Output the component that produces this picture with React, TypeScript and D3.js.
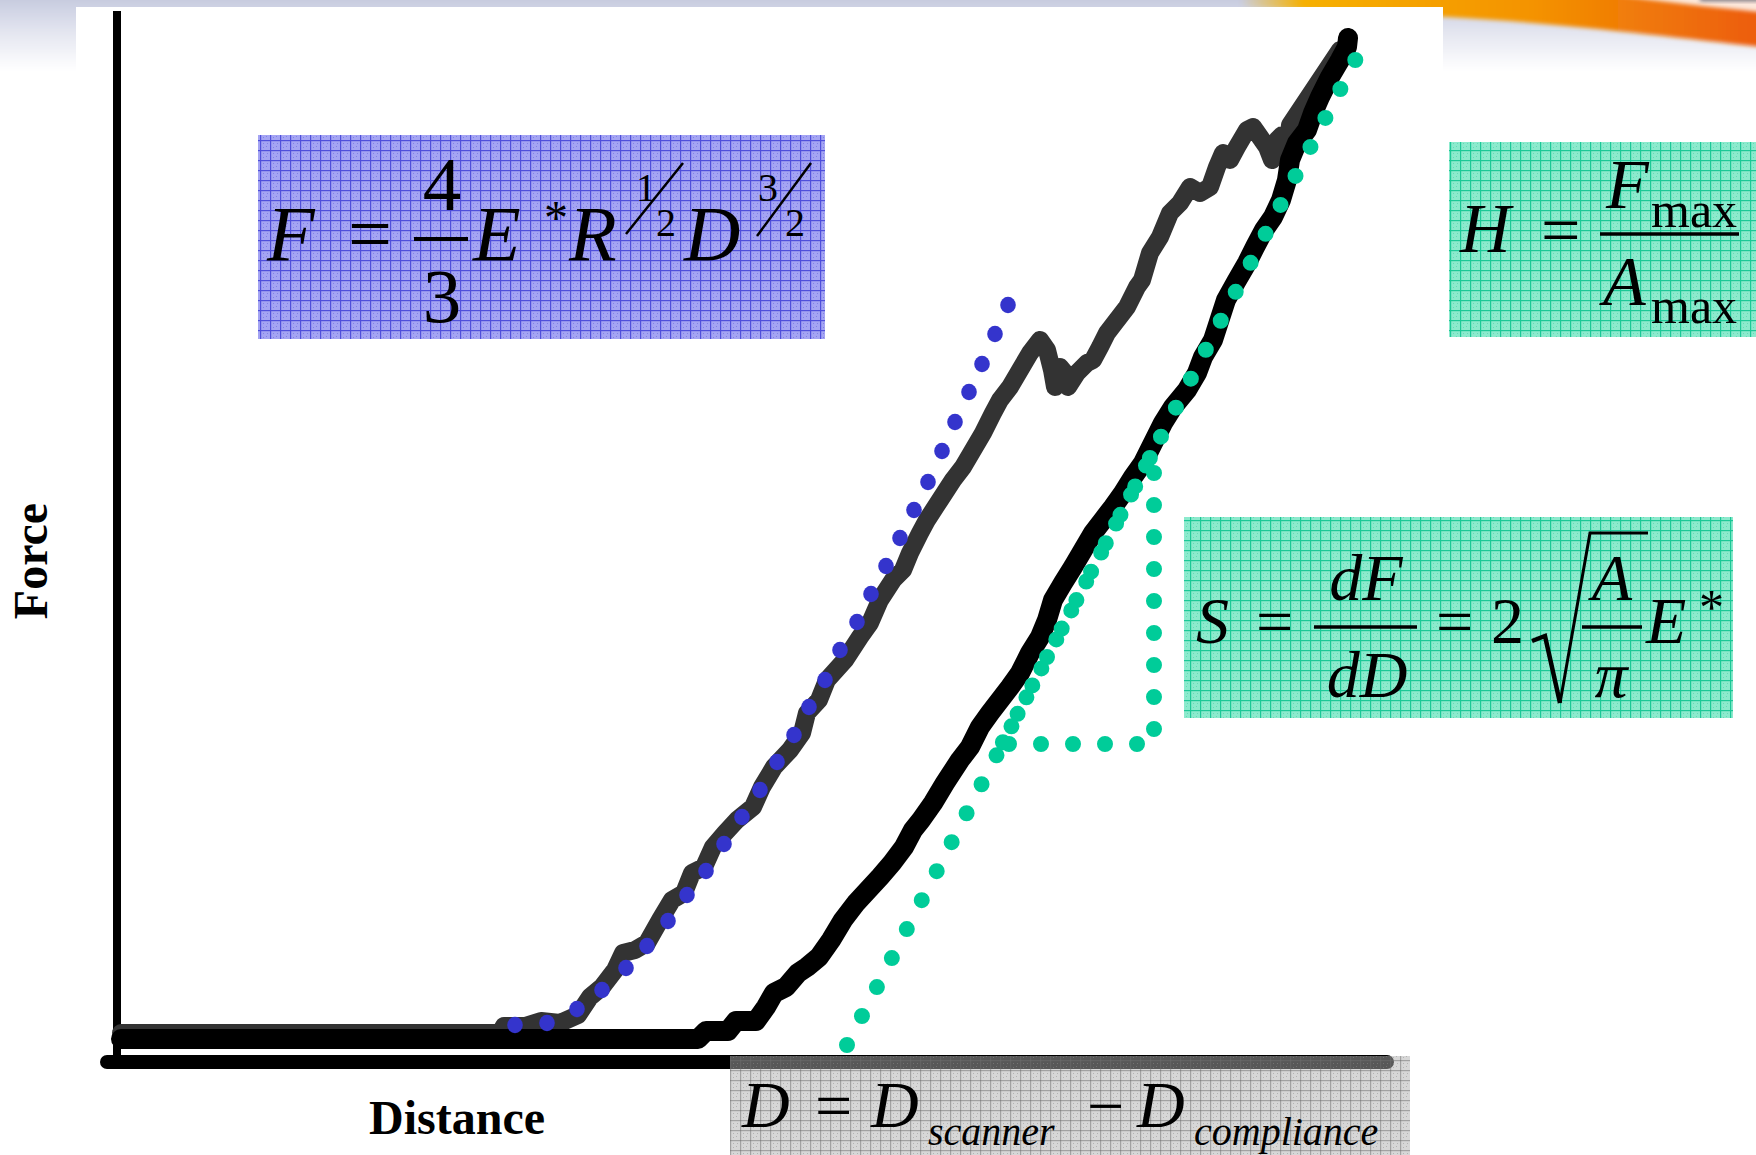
import React from "react";
import * as d3 from "d3";

// loading branch (distance, force), arbitrary units
const loadingCurve: [number, number][] = [
  [0.4, 2.9], [38.3, 2.9], [38.7, 3.6], [40.8, 3.6], [42.4, 4.1], [44.3, 3.9],
  [46.1, 4.7], [47.3, 6.5], [48.5, 7.5], [49.8, 9.2], [50.6, 10.9], [51.8, 11.2],
  [53.0, 11.9], [54.3, 14.2], [55.5, 16.2], [56.7, 16.9], [57.5, 18.9], [58.7, 19.5],
  [59.6, 21.5], [60.8, 22.9], [62.0, 24.2], [63.6, 25.5], [64.5, 27.5], [65.7, 29.5],
  [67.3, 31.2], [68.5, 32.9], [69.0, 34.9], [70.2, 36.2], [71.0, 38.2], [72.8, 40.2],
  [74.3, 42.5], [75.3, 43.9], [76.3, 46.2], [77.6, 48.2], [78.6, 49.2], [79.3, 50.9],
  [80.3, 52.9], [81.0, 54.2], [82.3, 56.2], [83.6, 58.2], [84.6, 59.5], [85.6, 61.2],
  [86.6, 62.9], [87.6, 64.9], [88.3, 66.2], [89.3, 67.5], [90.3, 69.2], [91.3, 70.9],
  [92.3, 72.2], [93.0, 71.2], [93.5, 69.2], [93.8, 67.5], [94.3, 69.5], [94.8, 68.9],
  [95.1, 67.5], [96.0, 68.9], [97.0, 69.9], [97.6, 70.2], [98.3, 71.5], [99.0, 72.9],
  [100.0, 74.2], [101.0, 75.5], [102.0, 77.5], [102.5, 78.2], [103.3, 80.9], [104.3, 82.5],
  [105.3, 84.9], [106.3, 85.9], [107.3, 87.5], [108.3, 86.9], [109.3, 87.5], [110.0, 89.5],
  [110.6, 90.9], [111.3, 90.2], [112.0, 91.5], [113.0, 93.2], [113.6, 93.5], [114.3, 92.5],
  [115.0, 91.5], [115.5, 90.2], [116.0, 92.2], [116.5, 92.7], [117.0, 91.2], [117.3, 93.7],
  [118.3, 95.2], [119.3, 96.7], [120.3, 98.2], [121.3, 99.7], [122.3, 101.2],
];

// unloading branch
const unloadingCurve: [number, number][] = [
  [0.4, 2.3], [58.1, 2.3], [58.9, 3.1], [61.1, 3.1], [61.9, 4.1], [63.9, 4.1],
  [64.9, 5.5], [65.7, 6.9], [66.9, 7.5], [68.1, 8.9], [69.0, 9.5], [70.2, 10.5],
  [71.4, 12.2], [72.6, 14.2], [73.9, 15.9], [75.1, 17.2], [76.3, 18.5], [77.5, 19.9],
  [78.7, 21.5], [79.6, 23.2], [80.4, 24.2], [81.6, 25.9], [82.8, 27.9], [84.3, 30.2],
  [85.3, 31.5], [86.3, 33.5], [87.3, 34.9], [88.3, 36.2], [89.3, 37.5], [90.3, 38.9],
  [91.3, 40.9], [92.3, 42.5], [93.0, 44.2], [93.6, 46.2], [94.6, 47.9], [95.6, 49.5],
  [96.6, 51.2], [97.6, 52.9], [98.6, 54.2], [99.6, 55.5], [100.6, 56.9], [101.6, 58.5],
  [102.6, 59.9], [103.6, 61.9], [104.6, 63.9], [105.6, 65.5], [107.0, 67.2], [108.0, 68.9],
  [108.6, 70.5], [109.6, 72.2], [110.9, 76.2], [111.9, 78.0], [113.0, 79.9], [113.8, 81.5],
  [114.7, 83.2], [115.6, 84.5], [116.4, 86.2], [117.0, 88.2], [117.3, 90.2], [118.0, 91.9],
  [119.0, 93.2], [119.6, 94.9], [120.3, 96.5], [121.3, 98.5], [122.3, 100.2], [123.0, 101.5],
  [123.1, 102.4],
];

// Hertz fit, one entry per dot
const hertzFit: [number, number][] = [
  [39.8, 3.7], [43.0, 3.9], [46.0, 5.3], [48.5, 7.2], [50.9, 9.4], [53.0, 11.6],
  [55.1, 14.1], [57.0, 16.7], [58.9, 19.1], [60.7, 21.8], [62.5, 24.5], [64.3, 27.2],
  [66.0, 30.0], [67.7, 32.7], [69.2, 35.5], [70.8, 38.2], [72.3, 41.2], [74.0, 44.0],
  [75.4, 46.8], [76.9, 49.6], [78.3, 52.4], [79.7, 55.2], [81.1, 58.0], [82.5, 61.1],
  [83.8, 64.0], [85.2, 67.0], [86.5, 69.8], [87.8, 72.8], [89.1, 75.7],
];

// stiffness tangent to the unloading branch and its slope triangle
const tangentLine: [number, number][] = [[73.0, 1.7], [124.4, 101.3]];
const slopeTriangle: [number, number][] = [[88.5, 31.8], [103.7, 31.8], [103.7, 61.2]];

const xLabel = "Distance";
const yLabel = "Force";

const W = 1756;
const H = 1155;
const serif = "'Liberation Serif', 'Times New Roman', serif";

const x = d3.scaleLinear().domain([0, 127]).range([117, 1387]);
const y = d3.scaleLinear().domain([0, 105]).range([1062, 12]);

const line = d3
  .line<[number, number]>()
  .x((d) => x(d[0]))
  .y((d) => y(d[1]));

const GridPattern = ({ id, base, grid, dot, opacity = 1 }: any) => (
  <pattern id={id} width="10" height="10" patternUnits="userSpaceOnUse">
    <rect width="10" height="10" fill={base} fillOpacity={opacity} />
    <rect x="3" y="3" width="1" height="1" fill={dot} fillOpacity={opacity} />
    <rect x="6" y="6" width="1" height="1" fill={dot} fillOpacity={opacity} />
    <rect x="3" y="7" width="1" height="1" fill={dot} fillOpacity={opacity} />
    <rect x="7" y="3" width="1" height="1" fill={dot} fillOpacity={opacity} />
    <rect x="0" y="0" width="10" height="1.2" fill={grid} fillOpacity={opacity} />
    <rect x="0" y="0" width="1.2" height="10" fill={grid} fillOpacity={opacity} />
  </pattern>
);

const App = () => {
  const [x0, x1] = x.range();
  const [yBase, yTop] = y.range();

  return (
    <div style={{ position: "absolute", left: 0, top: 0 }}>
      <svg width={W} height={H} style={{ display: "block" }}>
        <defs>
          <linearGradient id="bannerFade" x1="0" y1="0" x2="0" y2="1">
            <stop offset="0" stopColor="#bfc4da" />
            <stop offset="0.5" stopColor="#e2e4ef" />
            <stop offset="1" stopColor="#ffffff" />
          </linearGradient>
          <linearGradient id="orangeSweep" x1="0" y1="0" x2="1" y2="0">
            <stop offset="0" stopColor="#f4b400" stopOpacity="0" />
            <stop offset="0.12" stopColor="#f6b000" />
            <stop offset="0.55" stopColor="#f49300" />
            <stop offset="1" stopColor="#ec5a12" />
          </linearGradient>
          <filter id="soft" x="-10%" y="-50%" width="120%" height="200%">
            <feGaussianBlur stdDeviation="4" />
          </filter>
          <filter id="softer" x="-10%" y="-50%" width="120%" height="200%">
            <feGaussianBlur stdDeviation="2" />
          </filter>
          <GridPattern id="gridBlue" base="#a4a4f3" grid="#4f4fdb" dot="#8080e6" />
          <GridPattern id="gridGreen" base="#8ceacd" grid="#1cc897" dot="#62dcb6" />
          <GridPattern id="gridGray" base="#b0b0b0" grid="#6e6e6e" dot="#909090" opacity={0.5} />
        </defs>

        {/* slide background */}
        <rect width={W} height={H} fill="#ffffff" />
        <rect x={-20} y={-10} width={W + 40} height={80} fill="url(#bannerFade)" filter="url(#soft)" />
        <path
          d="M1240,-10 L1770,-10 L1770,48 C1690,39 1610,29 1510,21 C1410,14 1320,10 1240,7 Z"
          fill="url(#orangeSweep)"
          filter="url(#softer)"
        />
        <path d="M1610,-6 L1770,-6 L1770,13 C1710,7 1660,2 1610,-6 Z" fill="#ffffff" opacity="0.85" filter="url(#softer)" />
        <rect x={1700} y={-4} width={70} height={5} fill="#303850" opacity="0.7" filter="url(#softer)" />
        <rect x={76} y={7} width={1367} height={H} fill="#ffffff" />

        {/* axes */}
        <line x1={x0} x2={x0} y1={yTop - 1} y2={yBase} stroke="#000" strokeWidth={8} />
        <line x1={x0 - 10} x2={x1} y1={yBase} y2={yBase} stroke="#000" strokeWidth={14} strokeLinecap="round" />

        {/* curves */}
        <path
          d={line(loadingCurve) || ""}
          fill="none"
          stroke="#333333"
          strokeWidth={18}
          strokeLinejoin="round"
          strokeLinecap="round"
        />
        <path
          d={line(unloadingCurve) || ""}
          fill="none"
          stroke="#000000"
          strokeWidth={20}
          strokeLinejoin="round"
          strokeLinecap="round"
        />
        {hertzFit.map((d, i) => (
          <ellipse key={i} cx={x(d[0])} cy={y(d[1])} rx={7.8} ry={8.2} fill="#3434cc" />
        ))}
        <path
          d={line(tangentLine) || ""}
          fill="none"
          stroke="#00cc99"
          strokeWidth={16}
          strokeLinecap="round"
          strokeDasharray="0 32.6"
        />
        <path
          d={(line(slopeTriangle) || "") + "Z"}
          fill="none"
          stroke="#00cc99"
          strokeWidth={16}
          strokeLinecap="round"
          strokeLinejoin="round"
          strokeDasharray="0 32"
          strokeDashoffset={25}
        />

        {/* Hertz formula */}
        <g fontFamily={serif} fill="#000">
          <rect x={258} y={135} width={567} height={204} fill="url(#gridBlue)" />
          <text x={267} y={260} fontSize={78} fontStyle="italic">F</text>
          <text x={348} y={260} fontSize={78}>=</text>
          <text x={442} y={210} fontSize={77} textAnchor="middle">4</text>
          <line x1={414} x2={468} y1={239} y2={239} stroke="#000" strokeWidth={4} />
          <text x={442} y={322} fontSize={77} textAnchor="middle">3</text>
          <text x={473} y={260} fontSize={78} fontStyle="italic">E</text>
          <text x={544} y={234} fontSize={48}>*</text>
          <text x={569} y={260} fontSize={78} fontStyle="italic">R</text>
          <text x={636} y={201} fontSize={40}>1</text>
          <line x1={626} y1={234} x2={683} y2={163} stroke="#000" strokeWidth={2.5} />
          <text x={656} y={236} fontSize={40}>2</text>
          <text x={684} y={260} fontSize={78} fontStyle="italic">D</text>
          <text x={758} y={201} fontSize={40}>3</text>
          <line x1={757} y1={236} x2={811} y2={163} stroke="#000" strokeWidth={2.5} />
          <text x={785} y={236} fontSize={40}>2</text>
        </g>

        {/* hardness */}
        <g fontFamily={serif} fill="#000">
          <rect x={1449} y={142} width={W - 1449} height={195} fill="url(#gridGreen)" />
          <text x={1460} y={252} fontSize={70} fontStyle="italic">H</text>
          <text x={1541} y={254} fontSize={70}>=</text>
          <line x1={1600} x2={1739} y1={234} y2={234} stroke="#000" strokeWidth={3.5} />
          <text x={1606} y={208} fontSize={70} fontStyle="italic">F</text>
          <text x={1651} y={227} fontSize={50}>max</text>
          <text x={1603} y={305} fontSize={70} fontStyle="italic">A</text>
          <text x={1651} y={323} fontSize={50}>max</text>
        </g>

        {/* stiffness */}
        <g fontFamily={serif} fill="#000">
          <rect x={1184} y={517} width={549} height={201} fill="url(#gridGreen)" />
          <text x={1196} y={643} fontSize={66} fontStyle="italic">S</text>
          <text x={1256} y={644} fontSize={66}>=</text>
          <text x={1366} y={600} fontSize={66} fontStyle="italic" textAnchor="middle">dF</text>
          <line x1={1314} x2={1417} y1={627} y2={627} stroke="#000" strokeWidth={3.5} />
          <text x={1367} y={697} fontSize={66} fontStyle="italic" textAnchor="middle">dD</text>
          <text x={1436} y={644} fontSize={66}>=</text>
          <text x={1491} y={643} fontSize={66}>2</text>
          <path d="M1532,641 L1545,636 L1560,703" fill="none" stroke="#000" strokeWidth={4.5} />
          <path d="M1560,703 L1590,533 L1648,533" fill="none" stroke="#000" strokeWidth={3} />
          <text x={1612} y={600} fontSize={66} fontStyle="italic" textAnchor="middle">A</text>
          <line x1={1582} x2={1642} y1={627} y2={627} stroke="#000" strokeWidth={3.5} />
          <text x={1611} y={697} fontSize={66} fontStyle="italic" textAnchor="middle">π</text>
          <text x={1646} y={643} fontSize={66} fontStyle="italic">E</text>
          <text x={1699} y={624} fontSize={50}>*</text>
        </g>

        {/* displacement correction */}
        <g fontFamily={serif} fill="#000">
          <rect x={730} y={1056} width={680} height={H - 1056} fill="url(#gridGray)" />
          <text x={742} y={1127} fontSize={66} fontStyle="italic">D</text>
          <text x={815} y={1128} fontSize={66}>=</text>
          <text x={871} y={1127} fontSize={66} fontStyle="italic">D</text>
          <text x={928} y={1145} fontSize={40} fontStyle="italic">scanner</text>
          <text x={1087} y={1128} fontSize={66}>−</text>
          <text x={1137} y={1127} fontSize={66} fontStyle="italic">D</text>
          <text x={1194} y={1145} fontSize={40} fontStyle="italic">compliance</text>
        </g>

        {/* axis titles */}
        <text
          x={457}
          y={1134}
          fontFamily={serif}
          fontSize={48}
          fontWeight="bold"
          textAnchor="middle"
        >
          {xLabel}
        </text>
        <text
          transform="translate(47,561) rotate(-90)"
          fontFamily={serif}
          fontSize={48}
          fontWeight="bold"
          textAnchor="middle"
        >
          {yLabel}
        </text>
      </svg>
    </div>
  );
};

export default App;
